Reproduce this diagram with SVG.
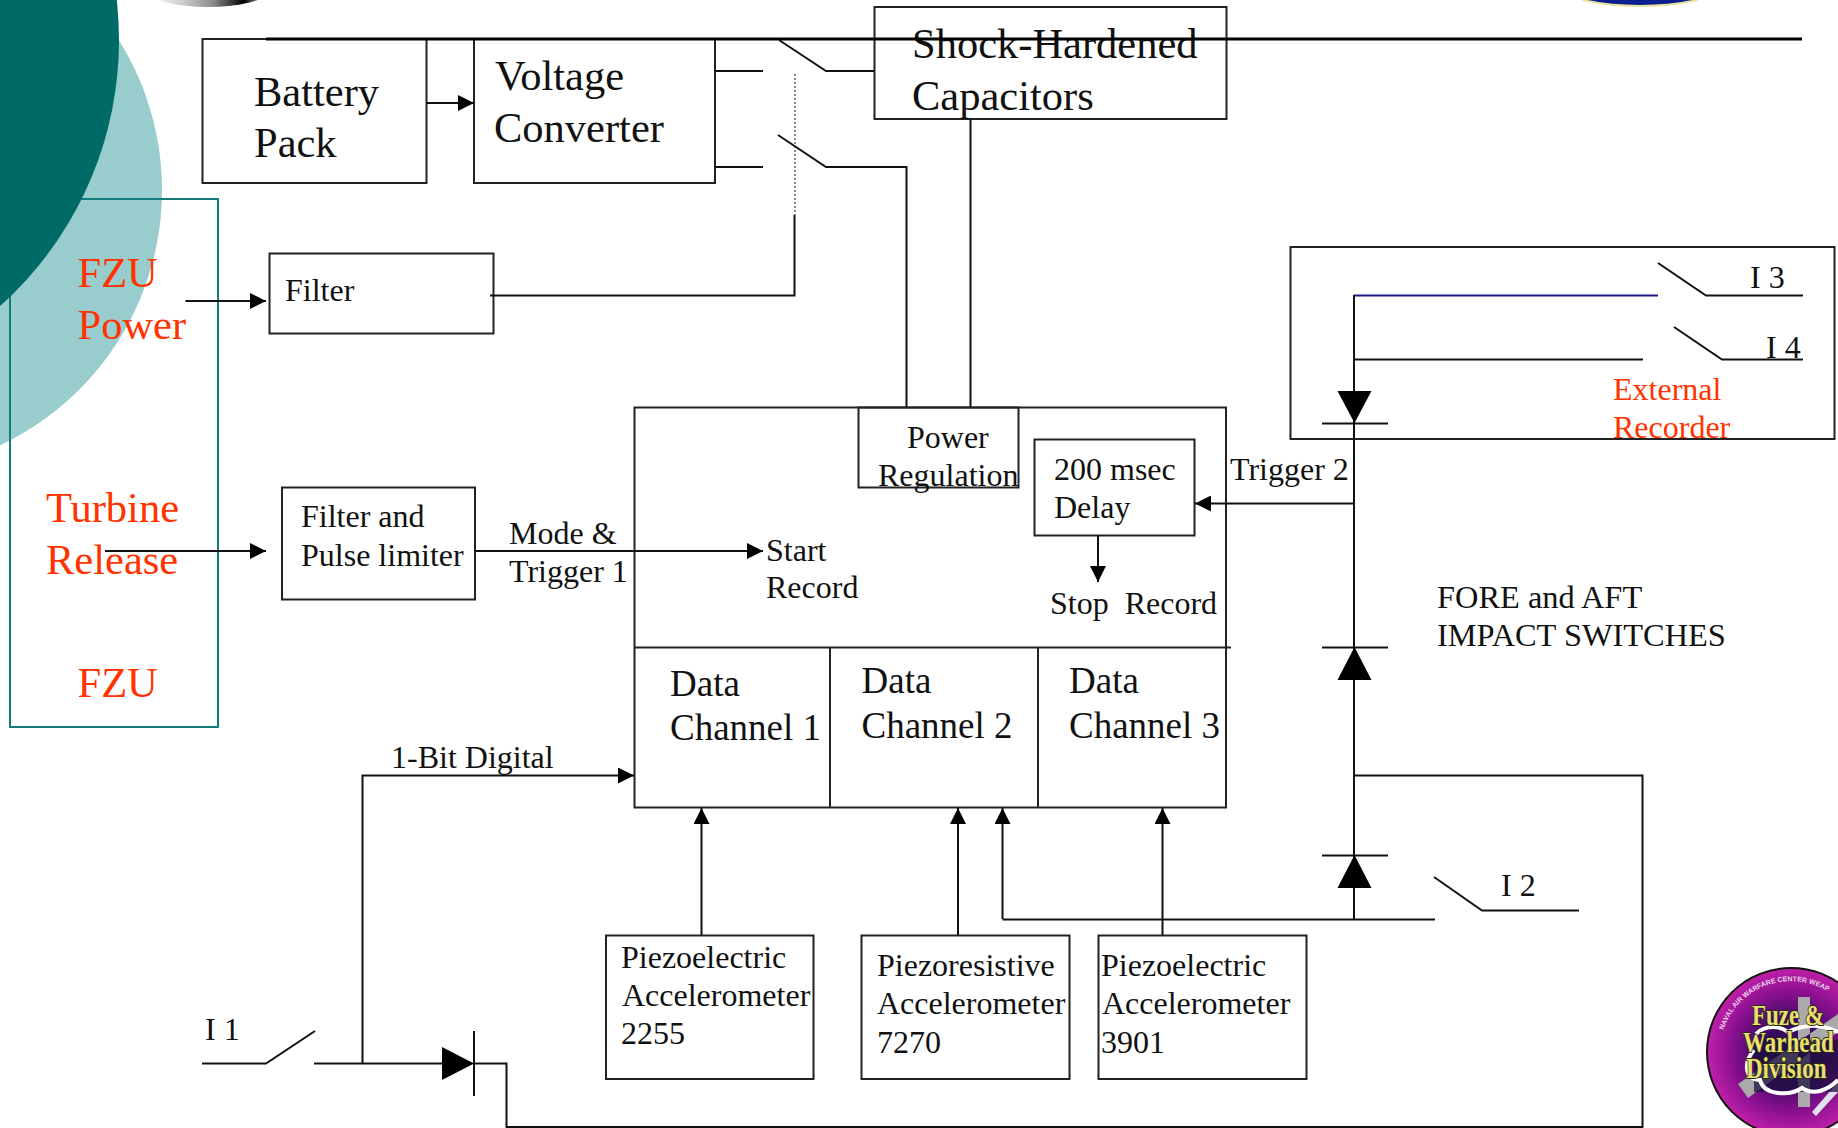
<svg xmlns="http://www.w3.org/2000/svg" width="1838" height="1128" viewBox="0 0 1838 1128">
<style>
text{font-family:"Liberation Serif","Times New Roman",serif;fill:#111;white-space:pre}
.box{fill:none;stroke:#222;stroke-width:2}
.w{fill:none;stroke:#111;stroke-width:2}
.a{marker-end:url(#arrow)}
.f{fill:#000;stroke:none}
.t41{font-size:42.5px}.t36{font-size:37px}.t32{font-size:32px}
.red{fill:#ff3300}
.logo{font-weight:bold;font-size:23px;fill:#e8e070;stroke:#2a2a10;stroke-width:1.4;paint-order:stroke}
</style>
<defs>
<marker id="arrow" markerUnits="userSpaceOnUse" markerWidth="16" markerHeight="16" viewBox="0 0 16 16" refX="16" refY="8" orient="auto"><path d="M0 0L16 8L0 16Z" fill="#000"/></marker>
<radialGradient id="pur" cx="0.5" cy="0.5" r="0.5"><stop offset="0.35" stop-color="#3a0a60"/><stop offset="0.72" stop-color="#8a1090"/><stop offset="1" stop-color="#c020a8"/></radialGradient>
<linearGradient id="gr" x1="0" x2="1" y1="0" y2="0"><stop offset="0" stop-color="#fff"/><stop offset="0.3" stop-color="#ccc"/><stop offset="0.55" stop-color="#888"/><stop offset="0.8" stop-color="#000"/><stop offset="1" stop-color="#ddd"/></linearGradient>
<path id="ring" d="M1723.500 1030A71 71 0 0 1 1838 999"/>
</defs>
<rect width="1838" height="1128" fill="#fff"/>
<g id="background">
<circle cx="-120" cy="190" r="282" fill="#99cccc"/>
<rect x="10" y="199" width="208" height="528" fill="none" stroke="#127c7c" stroke-width="2"/>
<circle cx="-238" cy="40" r="357" fill="#006a66"/>
<ellipse cx="208" cy="-9" rx="60" ry="16" fill="url(#gr)"/>
<ellipse cx="1640" cy="-10" rx="72" ry="16" fill="#0a2090" stroke="#e8e2a0" stroke-width="2"/>
</g>
<g id="logo">
<circle cx="1791" cy="1052" r="84" fill="url(#pur)" stroke="#111" stroke-width="2"/>
<path d="M1798 997h12v110h-12zM1738 1084l10 14 90-66v-18z" fill="#aaa"/>
<path d="M1812 1112l26-30v10l-22 24z" fill="#dfe0ee"/>
<path d="M1754 1040h84v52h-84z" fill="#1c1040" opacity=".75"/>
<path d="M1754 1050c-12 14-8 30 6 30 4 16 30 16 42 8 12 8 26 2 36-8M1756 1034c10-10 24-8 32-2 16-8 34-8 50 0" fill="none" stroke="#fff" stroke-width="4"/>
<text font-size="7" font-weight="bold" style="fill:#f0d0f0;font-family:'Liberation Sans',sans-serif"><textPath href="#ring">NAVAL AIR WARFARE CENTER WEAP</textPath></text>
<text transform="translate(1752 1025) scale(1 1.25)" class="logo">Fuze &amp;</text>
<text transform="translate(1743 1052) scale(1 1.25)" class="logo">Warhead</text>
<text transform="translate(1746 1078) scale(1 1.25)" class="logo">Division</text>
</g>
<g id="fzu-labels">
<text x="77.5" y="287" class="t41 red">FZU</text>
<text x="77.5" y="339" class="t41 red">Power</text>
<text x="46" y="522" class="t41 red">Turbine</text>
<text x="46" y="574" class="t41 red">Release</text>
<text x="77.5" y="697" class="t41 red">FZU</text>
</g>
<g id="battery"><rect class="box" x="202.500" y="39" width="224" height="144"/><text x="254" y="106" class="t41">Battery</text><text x="254" y="157" class="t41">Pack</text></g>
<g id="converter"><rect class="box" x="474" y="39" width="241" height="144"/><text x="495" y="90" class="t41">Voltage</text><text x="494" y="142" class="t41">Converter</text></g>
<g id="capacitors"><rect class="box" x="874.500" y="7" width="352" height="112"/><text x="912" y="58" class="t41">Shock-Hardened</text><text x="912" y="110" class="t41">Capacitors</text></g>
<g id="filter"><rect class="box" x="269.500" y="253.500" width="224" height="80"/><text x="285" y="301" class="t32">Filter</text></g>
<g id="pulse-limiter"><rect class="box" x="282" y="487.500" width="193" height="112"/><text x="301" y="527" class="t32">Filter and</text><text x="301" y="566" class="t32">Pulse limiter</text></g>
<g id="recorder">
<path class="box" d="M634.500 407.500H1226V807.500H634.500ZM634.500 647.500H1231M830 647.500V807.500M1038 647.500V807.500"/>
<text x="766" y="561" class="t32">Start</text><text x="766" y="598" class="t32">Record</text>
<text x="1050" y="614" class="t32">Stop  Record</text>
<text x="670" y="696" class="t36">Data</text><text x="670" y="740" class="t36">Channel 1</text>
<text x="861.500" y="693" class="t36">Data</text><text x="861.500" y="738" class="t36">Channel 2</text>
<text x="1069" y="693" class="t36">Data</text><text x="1069" y="738" class="t36">Channel 3</text>
</g>
<g id="power-regulation"><rect class="box" x="858.500" y="407.500" width="160" height="80"/><text x="907" y="448" class="t32">Power</text><text x="878" y="486" class="t32">Regulation</text></g>
<g id="delay"><rect class="box" x="1034.500" y="439.500" width="160" height="96"/><text x="1054" y="480" class="t32">200 msec</text><text x="1054" y="518" class="t32">Delay</text></g>
<g id="external-recorder"><rect class="box" x="1290.500" y="247" width="544" height="192"/><text x="1613" y="400" class="t32 red">External</text><text x="1613" y="438" class="t32 red">Recorder</text><text x="1750" y="288" class="t32">I 3</text><text x="1766" y="358" class="t32">I 4</text></g>
<g id="sensor-2255"><rect class="box" x="606" y="935.500" width="207.500" height="143.500"/><text x="621" y="968" class="t32">Piezoelectric</text><text x="622" y="1006" class="t32">Accelerometer</text><text x="621" y="1044" class="t32">2255</text></g>
<g id="sensor-7270"><rect class="box" x="861.500" y="935.500" width="208" height="143.500"/><text x="877" y="976" class="t32">Piezoresistive</text><text x="877" y="1014" class="t32">Accelerometer</text><text x="877" y="1053" class="t32">7270</text></g>
<g id="sensor-3901"><rect class="box" x="1098.500" y="935.500" width="208" height="143.500"/><text x="1101" y="976" class="t32">Piezoelectric</text><text x="1102" y="1014" class="t32">Accelerometer</text><text x="1101" y="1053" class="t32">3901</text></g>
<g id="labels">
<text x="509" y="544" class="t32">Mode &amp;</text><text x="509" y="582" class="t32">Trigger 1</text>
<text x="391" y="768" class="t32">1-Bit Digital</text>
<text x="1230" y="480" class="t32">Trigger 2</text>
<text x="1437" y="608" style="font-size:32.4px">FORE and AFT</text><text x="1437" y="646" style="font-size:32.4px">IMPACT SWITCHES</text>
<text x="1501" y="896" class="t32">I 2</text><text x="205" y="1040" class="t32">I 1</text>
</g>
<g id="connectors">
<path d="M266 39H1802" fill="none" stroke="#000" stroke-width="3"/>
<path class="w a" d="M426 103H474"/>
<path class="w" d="M715 71H763M715 167H763M779 40L826 71H874M778 135L826 167H906.500V407M970.500 119V407"/>
<path d="M795 74V215" fill="none" stroke="#111" stroke-width="1" stroke-dasharray="2 2"/>
<path class="w" d="M794.500 215V295.500H490"/>
<path class="w a" d="M185.500 301H266"/>
<path class="w a" d="M105 551H266"/>
<path class="w a" d="M475 551H763"/>
<path class="w a" d="M1098 535V582"/>
<path class="w a" d="M1354 503.500H1195"/>
<path class="w a" d="M362.500 1063V775.500H634"/>
<path class="w a" d="M701.500 935V808"/>
<path class="w a" d="M958 935V808"/>
<path class="w a" d="M1002.500 919V808"/>
<path class="w a" d="M1162.500 935V808"/>
<path class="w" d="M1002.500 919.500H1435M1434 877L1482 910.500H1579"/>
<path class="w" d="M1354 359V919M1354 775.500H1642.500V1127H506.500V1063.500H474M1322 423.500H1388M1322 647.500H1388M1322 855.500H1388"/>
<path fill="none" stroke="#1a1a80" stroke-width="2" d="M1354 295.500H1658"/>
<path class="w" d="M1354 295V359.500H1643M1658 263L1706 295.500H1803M1674 327L1722 359.500H1803"/>
<path class="f" d="M1337.500 391H1371.500L1354.500 423ZM1337.500 680H1371.500L1354.500 647ZM1337.500 888H1371.500L1354.500 855ZM442 1047V1080L474 1063.500Z"/>
<path class="w" d="M202 1063.500H266L315 1031M314 1063.500H442M474 1031V1096"/>
</g>
</svg>
